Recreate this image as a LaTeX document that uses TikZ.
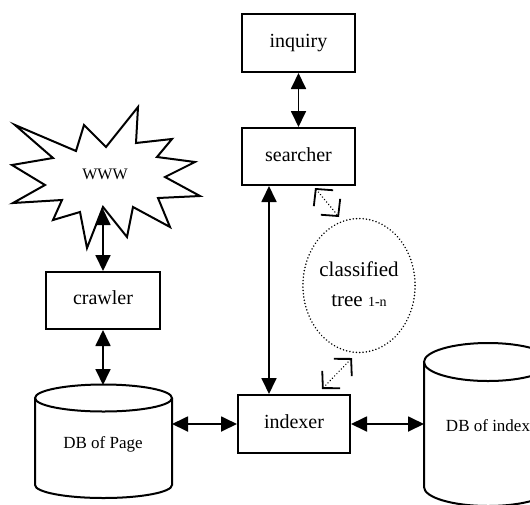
\documentclass[tikz,border=0pt]{standalone}
\usepackage{fontspec}
\setmainfont{Liberation Serif}
\usetikzlibrary{arrows.meta,shapes.geometric}
\begin{document}
\begin{tikzpicture}[x=1pt,y=-1pt,line width=2pt,
  box/.style={draw,rectangle,inner sep=0pt,font=\fontsize{20}{24}\selectfont},
  link/.style={{Triangle[length=16pt,width=15pt]}-{Triangle[length=16pt,width=15pt]},line width=1.8pt},
  dotlink/.style={{Straight Barb[length=12pt,width=25pt,line width=1.8pt]}-{Straight Barb[length=12pt,width=25pt,line width=1.8pt]},line width=1.6pt,dash pattern=on 0.01pt off 3.2pt,line cap=round},
  dotline/.style={line width=1.7pt,dash pattern=on 0.01pt off 3.3pt,line cap=round},
  dbtext/.style={font=\fontsize{17}{20}\selectfont,inner sep=0pt}
]
\useasboundingbox (0,0) rectangle (530,504);
\clip (0,0) rectangle (530,504);

% WWW star
\draw[line join=miter] (15,125) -- (76,151) -- (84,125) -- (106,147) -- (138,107) -- (136,143)
  -- (172,139) -- (157,157) -- (195,162) -- (165,177) -- (200,196) -- (158,198)
  -- (170,227) -- (133,207) -- (127,237) -- (103,207) -- (87,248) -- (80,212)
  -- (53,220) -- (62,200) -- (13,203) -- (45,185) -- (12,165) -- (53,158) -- cycle;
\node[font=\fontsize{16}{19}\selectfont,inner sep=0pt] (www) at (105,174) {WWW};
\coordinate (wwwb) at (103,209);

% boxes
\node[box,minimum width=113pt,minimum height=58pt] (inquiry) at (298.5,43) {\raisebox{3pt}{inquiry}};
\node[box,minimum width=113pt,minimum height=57pt] (searcher) at (298.5,156.5) {\raisebox{3pt}{searcher}};
\node[box,minimum width=114pt,minimum height=57pt] (crawler) at (103,300.5) {\raisebox{5pt}{crawler}};
\node[box,minimum width=112pt,minimum height=58pt] (indexer) at (294,424) {\raisebox{5pt}{indexer}};

% classified tree ellipse
\node[draw,ellipse,dotline,minimum width=94pt,minimum height=134pt,inner sep=0pt,
  font=\fontsize{21}{30}\selectfont] (tree) at (359,285.5)
  {\raisebox{6pt}{\begin{tabular}{@{}c@{}}classified\\tree {\fontsize{14}{16}\selectfont 1-n}\end{tabular}}};

% DB of Page cylinder
\draw (103.5,398) ellipse [x radius=68.5pt,y radius=13.5pt];
\draw (35,398) -- (35,485) arc[start angle=180,end angle=360,x radius=68.5pt,y radius=13pt] -- (172,398);
\node[dbtext] (dbpage) at (103,444) {DB of Page};
\coordinate (dbptop) at (103,385);
\coordinate (dbpR) at (172,424);

% DB of index cylinder
\draw (488,362) ellipse [x radius=64pt,y radius=19pt];
\draw (424,362) -- (424,487) arc[start angle=180,end angle=360,x radius=64pt,y radius=19pt] -- (552,362);
\node[dbtext] (dbindex) at (488,426) {DB of index};
\coordinate (dbiL) at (424,424);

% solid connectors
\coordinate (vx) at (269,0);
\draw[link] (inquiry.south) -- (searcher.north);
\draw[link] (searcher.south -| vx) -- (indexer.north -| vx);
\draw[link] (wwwb) -- (crawler.north);
\draw[link] (crawler.south) -- (dbptop);
\draw[link] (dbpR) -- (indexer.west);
\draw[link] (indexer.east) -- (dbiL);

% dotted connectors
\coordinate (d1a) at (315,188);
\coordinate (d1b) at (339,217);
\coordinate (d2a) at (322,389);
\coordinate (d2b) at (352,358);
\draw[dotlink] (d1a) -- (d1b);
\draw[dotlink] (d2a) -- (d2b);
\end{tikzpicture}
\end{document}
